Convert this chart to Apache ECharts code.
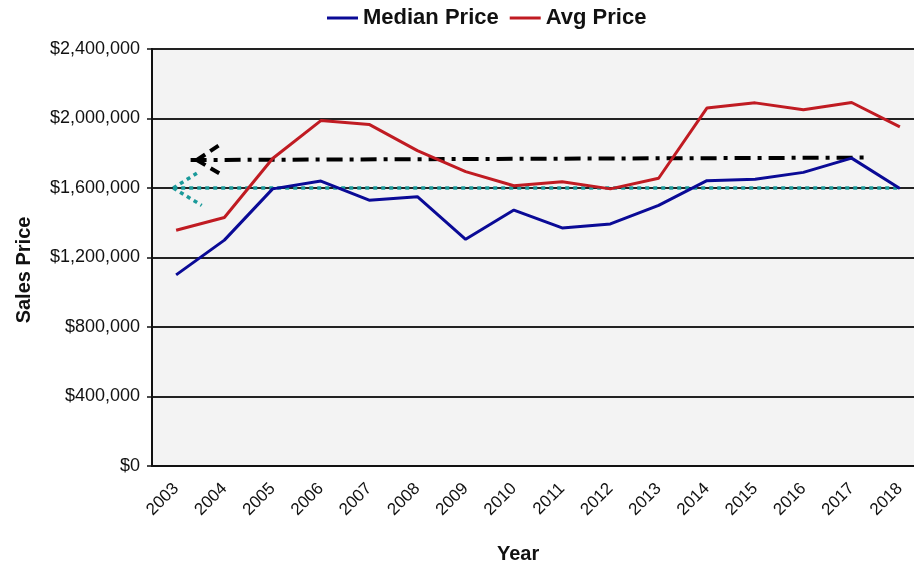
<!DOCTYPE html>
<html>
<head>
<meta charset="utf-8">
<script src="https://cdn.jsdelivr.net/npm/echarts@6/dist/echarts.min.js"></script>
<style>
  html, body { margin: 0; padding: 0; background: #ffffff; overflow: hidden; }
  /* the plot runs a little past the right edge of the page */
  #chart { width: 924px; height: 562px; }
</style>
</head>
<body>
<div id="chart"></div>
<script>
// Sales prices by year
var years = ['2003', '2004', '2005', '2006', '2007', '2008', '2009', '2010',
             '2011', '2012', '2013', '2014', '2015', '2016', '2017', '2018'];
var medianPrice = [1100000, 1300000, 1595000, 1640000, 1530000, 1550000, 1305000, 1473000,
                   1370000, 1393000, 1500000, 1642000, 1650000, 1690000, 1772000, 1597000];
var avgPrice = [1357000, 1430000, 1770000, 1988000, 1966000, 1815000, 1694000, 1613000,
                1636000, 1595000, 1656000, 2060000, 2090000, 2050000, 2092000, 1952000];
var yTicks = [0, 400000, 800000, 1200000, 1600000, 2000000, 2400000];

// Trend annotations: [year index, price]
var blackTrend = [[0.3, 1761000], [14.27, 1775000]];
var blackArrowUp = [[0.43, 1761000], [0.95, 1857000]];
var blackArrowDown = [[0.43, 1761000], [0.95, 1675000]];
var tealLevel = [[-0.06, 1600000], [15.0, 1600000]];
var tealArrowUp = [[-0.06, 1600000], [0.43, 1685000]];
var tealArrowDown = [[-0.06, 1600000], [0.53, 1500000]];

var FONT = 'Liberation Sans, Arial, sans-serif';

function money(v) {
  return '$' + v.toString().replace(/\B(?=(\d{3})+(?!\d))/g, ',');
}

function annot(name, data, color, width, dash) {
  return {
    name: name,
    type: 'line',
    xAxisIndex: 1,
    data: data,
    symbol: 'none',
    silent: true,
    z: 3,
    lineStyle: { color: color, width: width, type: dash }
  };
}

var chart = echarts.init(document.getElementById('chart'), null, { renderer: 'canvas' });
chart.setOption({
  animation: false,
  backgroundColor: '#ffffff',
  textStyle: { fontFamily: FONT },
  legend: {
    data: ['Median Price', 'Avg Price'],
    left: 327,
    top: 7,
    padding: 0,
    icon: 'rect',
    itemWidth: 31,
    itemHeight: 3,
    itemGap: 11,
    textStyle: { fontFamily: FONT, fontWeight: 'bold', fontSize: 22, color: '#111' }
  },
  grid: {
    left: 152, top: 49, right: 0, bottom: 96,
    show: true,
    backgroundColor: '#f3f3f3',
    borderColor: '#111',
    borderWidth: 2
  },
  xAxis: [{
    type: 'category',
    data: years,
    boundaryGap: true,
    axisLine: { show: true, lineStyle: { color: '#111', width: 2 } },
    axisTick: { show: false },
    splitLine: { show: false },
    axisLabel: {
      rotate: 45, margin: 20, interval: 0,
      fontFamily: FONT, fontSize: 17, color: '#111'
    }
  }, {
    type: 'value',
    min: -0.5, max: 15.5,
    show: false,
    splitLine: { show: false }
  }],
  yAxis: {
    type: 'value',
    min: 0, max: 2400000, interval: 400000,
    axisLine: { show: true, onZero: false, lineStyle: { color: '#111', width: 2 } },
    axisTick: { show: true, length: 5, lineStyle: { color: '#111', width: 1.5 } },
    splitLine: { show: true, lineStyle: { color: '#222', width: 2 } },
    axisLabel: {
      margin: 12,
      fontFamily: FONT, fontSize: 18, color: '#111',
      formatter: function (v) { return yTicks.indexOf(v) >= 0 ? money(v) : ''; }
    }
  },
  graphic: [{
    type: 'text',
    left: 497, top: 544,
    style: { text: 'Year', font: 'bold 20px ' + FONT, fill: '#111' }
  }, {
    type: 'text',
    x: 24, y: 270,
    rotation: Math.PI / 2,
    style: {
      text: 'Sales Price', font: 'bold 20px ' + FONT, fill: '#111',
      align: 'center', verticalAlign: 'middle'
    }
  }],
  series: [
    annot('trend', blackTrend, '#000', 4, [16, 7, 4, 7]),
    annot('trendUp', blackArrowUp, '#000', 4, [10, 6]),
    annot('trendDown', blackArrowDown, '#000', 4, [10, 6]),
    annot('level', tealLevel, '#1a9a9a', 3.5, [4, 4]),
    annot('levelUp', tealArrowUp, '#1a9a9a', 3.5, [4, 4]),
    annot('levelDown', tealArrowDown, '#1a9a9a', 3.5, [4, 4]),
    {
      name: 'Median Price', type: 'line', data: medianPrice,
      symbol: 'none', z: 4,
      lineStyle: { color: '#0a0a96', width: 3 },
      itemStyle: { color: '#0a0a96' }
    },
    {
      name: 'Avg Price', type: 'line', data: avgPrice,
      symbol: 'none', z: 4,
      lineStyle: { color: '#c01b22', width: 3 },
      itemStyle: { color: '#c01b22' }
    }
  ]
});
</script>
</body>
</html>
